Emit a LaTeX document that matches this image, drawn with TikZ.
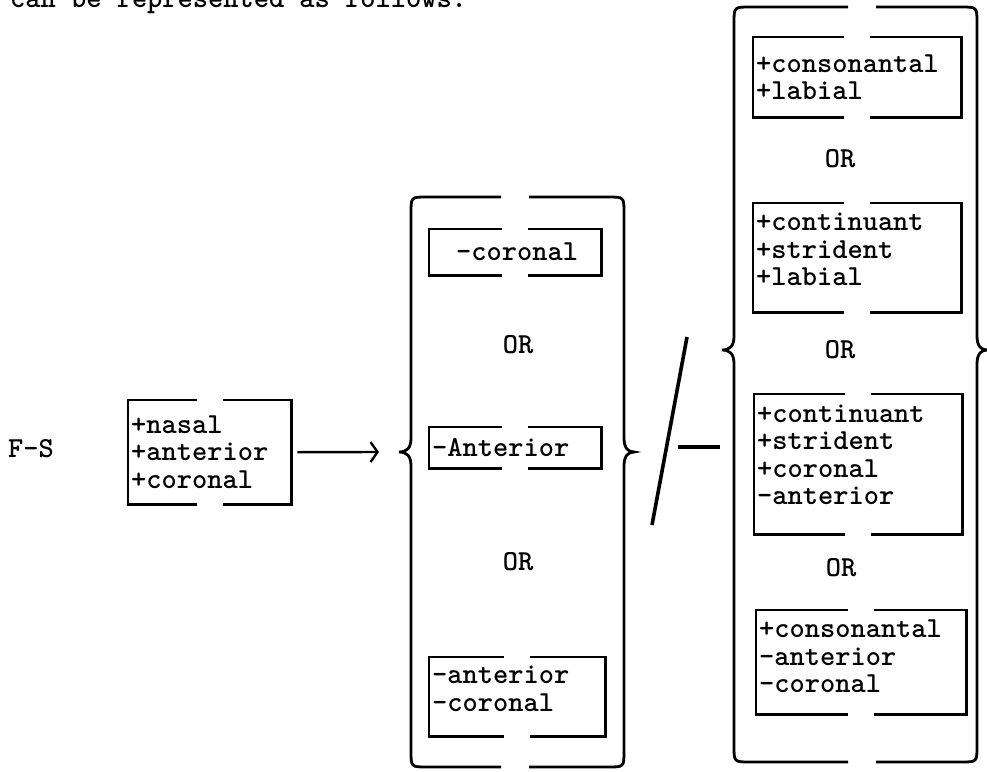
\documentclass[tikz,border=0pt]{standalone}
\usetikzlibrary{arrows.meta, positioning, calc}
\newcommand{\tyfont}{\ttfamily\bfseries\fontsize{29pt}{27.5pt}\selectfont}

% brace of options: left x, right x, top y, cusp y, bottom y, gap x
\newcommand{\optbrace}[6]{%
  \draw[brace] (#6-14,#3) -- (#1+16,#3) .. controls (#1,#3) .. (#1,#3+16)
    -- (#1,#4-14) .. controls (#1,#4-4) and (#1-4,#4) .. (#1-12,#4)
    .. controls (#1-4,#4) and (#1,#4+4) .. (#1,#4+14)
    -- (#1,#5-16) .. controls (#1,#5) .. (#1+16,#5) -- (#6-14,#5);
  \draw[brace] (#6+14,#3) -- (#2-16,#3) .. controls (#2,#3) .. (#2,#3+16)
    -- (#2,#4-14) .. controls (#2,#4-4) and (#2+4,#4) .. (#2+10,#4)
    .. controls (#2+4,#4) and (#2,#4+4) .. (#2,#4+14)
    -- (#2,#5-16) .. controls (#2,#5) .. (#2-16,#5) -- (#6+14,#5);}

\begin{document}
\begin{tikzpicture}[x=1pt, y=-1pt,
    feat/.style 2 args={font=\tyfont, anchor=north west, align=left,
                inner xsep=3pt, inner ysep=0pt, text width=#1, minimum height=#2},
    orlbl/.style={font=\tyfont, inner sep=0pt},
    frame/.style={line width=2.2pt},
    brace/.style={line width=2.8pt},
    arr/.style={-{Straight Barb[length=7pt,width=20pt]}, line width=2.4pt}
]
  \useasboundingbox (0,0) rectangle (987,771);

  % running text above
  \node[font=\tyfont, anchor=base west, inner sep=0pt] (intro) at (10,7) {can be represented as follows:};

  % rule input
  \node[font=\tyfont, anchor=west, inner sep=0pt] (fs) at (8,449) {F-S};
  \node[feat={157pt}{104pt}] (src) at (128,400) {+nasal\\+anterior\\+coronal};

  % change
  \node[feat={166pt}{46pt}] (m1) at (429,229) {\hspace{24pt}-coronal};
  \node[orlbl] (mor1) at (518,345) {OR};
  \node[feat={166pt}{41pt}] (m2) at (429,427) {-Anterior};
  \node[orlbl] (mor2) at (518,562) {OR};
  \node[feat={170pt}{79pt}, text depth=43pt] (m3) at (429,657) {-anterior\\-coronal};

  % environment
  \node[feat={202pt}{80pt}] (r1) at (753,37) {+consonantal\\+labial};
  \node[orlbl] (ror1) at (840,159) {OR};
  \node[feat={202pt}{109pt}, text depth=71pt] (r2) at (753,203) {+continuant\\+strident\\+labial};
  \node[orlbl] (ror2) at (840,350) {OR};
  \node[feat={202pt}{140pt}, text depth=101pt] (r3) at (754,394) {+continuant\\+strident\\+coronal\\-anterior};
  \node[orlbl] (ror3) at (841,568) {OR};
  \node[feat={204pt}{104pt}, text depth=67pt] (r4) at (756,610) {+consonantal\\-anterior\\-coronal};

  % frames with a gap top and bottom
  \foreach \b in {src,m1,m2,m3,r1,r2,r3,r4}{
    \draw[frame] ($(\b.north)+(-13pt,0)$) -| (\b.south west) -- ($(\b.south)+(-13pt,0)$);
    \draw[frame] ($(\b.north)+(13pt,0)$) -| (\b.south east) -- ($(\b.south)+(13pt,0)$);
  }

  % braces
  \optbrace{411}{624}{197}{452}{767}{515}
  \optbrace{734}{977}{7}{350}{762}{862}

  % arrow, slash and place bar
  \coordinate (into) at (379,452);
  \draw[arr] ([xshift=6pt]src.east) -- (into);
  \draw[line width=3.6pt] (687,337) -- (652,525);
  \draw[line width=3.6pt] (678,447) -- (720,447);
\end{tikzpicture}
\end{document}
